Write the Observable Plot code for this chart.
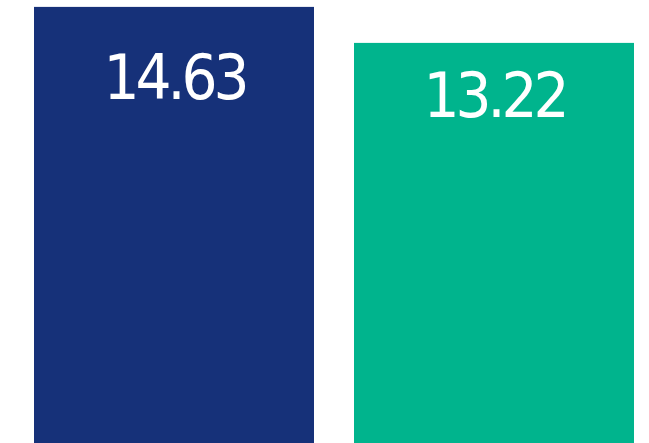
<!DOCTYPE html>
<html>
<head>
<meta charset="utf-8">
<script src="https://cdn.jsdelivr.net/npm/d3@7"></script>
<script src="https://cdn.jsdelivr.net/npm/@observablehq/plot@0.6"></script>
<style>
  html, body { margin: 0; padding: 0; background: #fff; }
  #chart svg { display: block; }
  #chart text { letter-spacing: -4px; }
</style>
</head>
<body>
<div id="chart"></div>
<script>
const categories = ["A", "B"];
const values = [14.63, 13.22];
const labels = ["14.63", "13.22"];
const colors = ["#163179", "#00B48D"];
// visible value range of the picture (baseline is not at zero)
const yMin = -2.45;
const yMax = 14.9;
const labelRef = 9.0;

const data = categories.map((c, i) => ({cat: c, value: values[i], label: labels[i]}));

const chart = Plot.plot({
  width: 649,
  height: 443,
  marginTop: 0,
  marginBottom: 0,
  marginLeft: 34,
  marginRight: 15,
  style: {background: "#fff"},
  x: {domain: categories, paddingInner: 0.125, paddingOuter: 0, axis: null},
  y: {domain: [yMin, yMax], axis: null},
  color: {domain: categories, range: colors},
  marks: [
    Plot.barY(data, {x: "cat", y1: yMin, y2: "value", fill: "cat"}),
    Plot.text(data, {
      x: "cat",
      y: d => (d.value + labelRef) / 2,
      text: "label",
      fill: "#fff",
      fontSize: 63,
      fontFamily: "'DejaVu Sans Condensed', sans-serif",
      lineAnchor: "middle",
      textAnchor: "middle"
    })
  ]
});
document.getElementById("chart").appendChild(chart);
</script>
</body>
</html>
